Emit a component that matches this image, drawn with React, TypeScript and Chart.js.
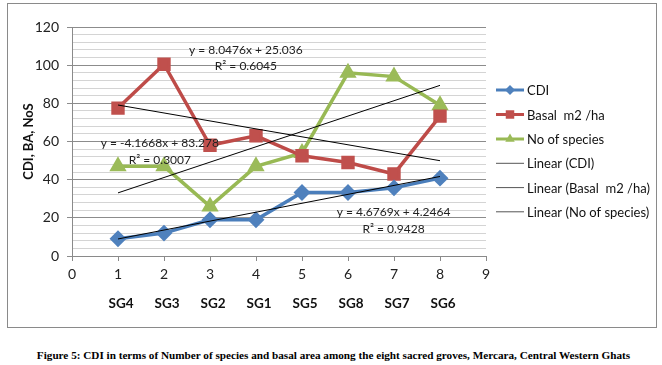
import React, { useEffect, useRef } from "react";
import { Chart, registerables } from "chart.js";

Chart.register(...registerables);

// ---- data ----
const xValues = [1, 2, 3, 4, 5, 6, 7, 8];
const groveLabels = ["SG4", "SG3", "SG2", "SG1", "SG5", "SG8", "SG7", "SG6"];
const cdiValues = [9, 12, 19, 19, 33.3, 33.3, 35.7, 40.8];
const basalValues = [77.5, 100.5, 58, 63, 52.5, 49, 43, 73.3];
const speciesValues = [47, 47, 26, 47, 54, 96, 94, 79];
const seriesNames = ["CDI", "Basal  m2 /ha", "No of species"];
const trendNames = ["Linear (CDI)", "Linear (Basal  m2 /ha)", "Linear (No of species)"];
const trendSlopes = [4.6769, -4.1668, 8.0476];
const trendIntercepts = [4.2464, 83.278, 25.036];
const trendR2 = ["0.9428", "0.3007", "0.6045"];
const yTickLabels = [0, 20, 40, 60, 80, 100, 120];
const captionText =
  "Figure 5: CDI in terms of Number of species and basal area among the eight sacred groves, Mercara, Central Western Ghats";

// ---- styles ----
const FONT = "Lato, 'Liberation Sans', sans-serif";
const lineColors = ["#4A7EBB", "#BE4B48", "#98B954"];
const markerColors = ["#4F81BD", "#C0504D", "#9BBB59"];
const markerStyles = ["rectRot", "rect", "triangle"];
const markerRadii = [6, 7, 6.5];
// equation label anchors in data coordinates [x, yLine1, yLine2]
const eqAnchors = [
  [6.99, 23.2, 14.2],
  [1.91, 59.2, 50.3],
  [3.78, 108, 99.3],
];

function fmtEq(i: number) {
  const m = trendSlopes[i];
  const b = trendIntercepts[i];
  return `y = ${m}x + ${b}`;
}

function drawMarker(ctx: CanvasRenderingContext2D, style: string, x: number, y: number, r: number) {
  ctx.beginPath();
  if (style === "rectRot") {
    ctx.moveTo(x, y - r);
    ctx.lineTo(x + r, y);
    ctx.lineTo(x, y + r);
    ctx.lineTo(x - r, y);
  } else if (style === "rect") {
    const s = r * Math.SQRT1_2;
    ctx.rect(x - s, y - s, 2 * s, 2 * s);
  } else {
    const h = r * 1.5;
    const w = r * Math.sqrt(3) / 2;
    ctx.moveTo(x, y - r);
    ctx.lineTo(x + w, y + h - r);
    ctx.lineTo(x - w, y + h - r);
  }
  ctx.closePath();
  ctx.fill();
}

const overlayPlugin = {
  id: "overlay",
  beforeDraw(chart: any) {
    const ctx = chart.ctx;
    ctx.save();
    ctx.fillStyle = "#ffffff";
    ctx.fillRect(0, 0, chart.width, chart.height);
    ctx.strokeStyle = "#8a8a8a";
    ctx.lineWidth = 1;
    ctx.strokeRect(7.5, 3.5, 649, 324);
    ctx.restore();
  },
  afterDraw(chart: any) {
    const ctx = chart.ctx;
    const xs = chart.scales.x;
    const ys = chart.scales.y;
    const area = chart.chartArea;
    ctx.save();
    // y title
    ctx.save();
    ctx.translate(29, (area.top + area.bottom) / 2);
    ctx.rotate(-Math.PI / 2);
    ctx.font = `bold 13px ${FONT}`;
    ctx.fillStyle = "#111";
    ctx.textAlign = "center";
    ctx.textBaseline = "middle";
    ctx.fillText("CDI, BA, NoS", 0, 0);
    ctx.restore();

    // second row of x labels
    ctx.font = `bold 13.5px ${FONT}`;
    ctx.fillStyle = "#111";
    ctx.textAlign = "center";
    ctx.textBaseline = "middle";
    groveLabels.forEach((lab, i) => {
      ctx.fillText(lab, xs.getPixelForValue(xValues[i]) + 3, 304);
    });

    // equations
    ctx.font = `12px ${FONT}`;
    ctx.fillStyle = "#222";
    for (let i = 0; i < 3; i++) {
      const [ax, ay1, ay2] = eqAnchors[i];
      const px = xs.getPixelForValue(ax);
      ctx.fillText(fmtEq(i), px, ys.getPixelForValue(ay1));
      ctx.fillText(`R² = ${trendR2[i]}`, px, ys.getPixelForValue(ay2));
    }

    // legend
    const lx0 = 496;
    const lx1 = 524;
    const rows = [90, 114.5, 139, 163.3, 187.6, 211.8];
    ctx.textAlign = "left";
    ctx.font = `13px ${FONT}`;
    for (let i = 0; i < 6; i++) {
      const y = rows[i];
      ctx.beginPath();
      if (i < 3) {
        ctx.strokeStyle = lineColors[i];
        ctx.lineWidth = 3;
      } else {
        ctx.strokeStyle = "#555";
        ctx.lineWidth = 1;
      }
      ctx.moveTo(lx0, y);
      ctx.lineTo(lx1, y);
      ctx.stroke();
      if (i < 3) {
        ctx.fillStyle = markerColors[i];
        drawMarker(ctx, markerStyles[i], (lx0 + lx1) / 2, y, markerRadii[i] - 1);
      }
      ctx.fillStyle = "#111";
      ctx.fillText(i < 3 ? seriesNames[i] : trendNames[i - 3], 527, y + 1);
    }
    ctx.restore();
  },
};

export default function App() {
  const ref = useRef<HTMLCanvasElement | null>(null);
  useEffect(() => {
    if (!ref.current) return;
    const seriesData = [cdiValues, basalValues, speciesValues];
    const datasets: any[] = seriesData.map((vals, i) => ({
      label: seriesNames[i],
      data: xValues.map((x, j) => ({ x, y: vals[j] })),
      borderColor: lineColors[i],
      backgroundColor: markerColors[i],
      pointBackgroundColor: markerColors[i],
      pointBorderColor: markerColors[i],
      borderWidth: 3.5,
      pointStyle: markerStyles[i],
      pointRadius: markerRadii[i],
      tension: 0,
      order: 1,
    }));
    trendSlopes.forEach((m, i) => {
      const xa = xValues[0];
      const xb = xValues[xValues.length - 1];
      datasets.push({
        label: trendNames[i],
        data: [
          { x: xa, y: m * xa + trendIntercepts[i] },
          { x: xb, y: m * xb + trendIntercepts[i] },
        ],
        borderColor: "#000",
        borderWidth: 1,
        pointRadius: 0,
        order: 0,
      });
    });
    const chart = new Chart(ref.current, {
      type: "line",
      data: { datasets },
      options: {
        animation: false,
        responsive: false,
        maintainAspectRatio: false,
        layout: { padding: { left: 0, top: 27, right: 176, bottom: 0 } },
        plugins: { legend: { display: false }, tooltip: { enabled: false } },
        scales: {
          x: {
            type: "linear",
            min: 0,
            max: 9,
            ticks: { stepSize: 1, color: "#222", font: { family: FONT, size: 14 }, padding: 5 },
            grid: { drawOnChartArea: false, drawTicks: true, tickLength: 5, color: "#8a8a8a" },
            border: { color: "#8a8a8a", width: 1 },
            afterFit(s: any) {
              s.height = 79;
            },
          },
          y: {
            min: 0,
            max: 120,
            ticks: {
              stepSize: 4,
              autoSkip: false,
              color: "#222",
              font: { family: FONT, size: 14 },
              padding: 8,
              callback: (v: any) => (yTickLabels.includes(v) ? String(v) : ""),
            },
            grid: {
              color: (c: any) => (c.tick && c.tick.value % 20 === 0 ? "#8c8c8c" : "#d4d4d4"),
              tickColor: (c: any) => (c.tick && c.tick.value % 20 === 0 ? "#8c8c8c" : "rgba(0,0,0,0)"),
              tickLength: 5,
            },
            border: { color: "#8a8a8a", width: 1 },
            afterFit(s: any) {
              s.width = 72;
            },
          },
        },
      },
      plugins: [overlayPlugin],
    } as any);
    return () => chart.destroy();
  }, []);
  return (
    <div style={{ position: "absolute", left: 0, top: 0, width: 662, height: 365, background: "#fff" }}>
      <canvas ref={ref} width={662} height={335} style={{ display: "block", width: 662, height: 335 }} />
      <div
        style={{
          position: "absolute",
          left: 0,
          top: 346,
          width: 667,
          textAlign: "center",
          fontFamily: "'Liberation Serif', 'Times New Roman', serif",
          fontWeight: "bold",
          fontSize: 11.2,
          lineHeight: "18px",
          color: "#000",
          whiteSpace: "nowrap",
        }}
      >
        {captionText}
      </div>
    </div>
  );
}
